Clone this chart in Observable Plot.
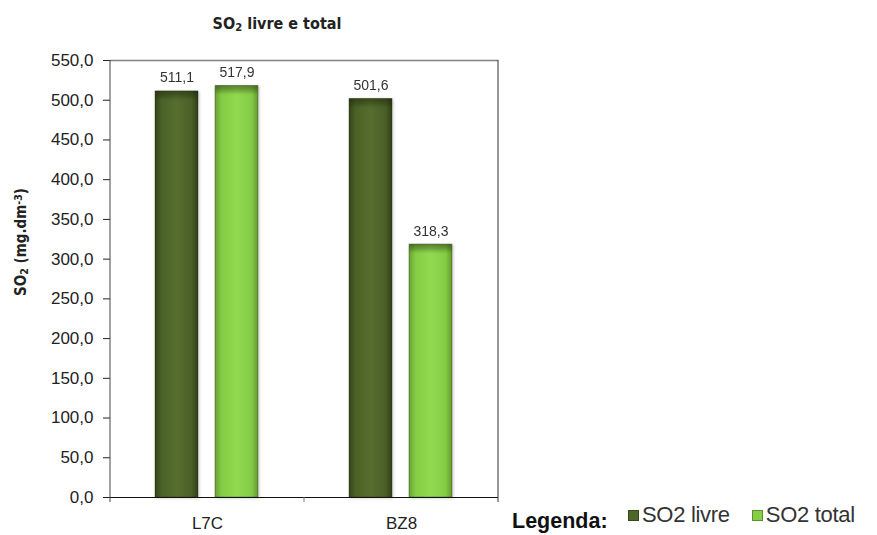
<!DOCTYPE html>
<html>
<head>
<meta charset="utf-8">
<script src="https://cdn.jsdelivr.net/npm/d3@7"></script>
<script src="https://cdn.jsdelivr.net/npm/@observablehq/plot@0.6"></script>
<style>
  body { margin: 0; background: #fff; }
  #chart { position: relative; width: 877px; height: 535px; font-family: "Liberation Sans", Arial, sans-serif; color: #222; }
  #chart svg { position: absolute; left: 0; top: 0; }
  .narrow { font-family: "Liberation Sans Narrow", "Arial Narrow", "DejaVu Sans Condensed", sans-serif; font-weight: bold; }
  #title { position: absolute; left: 177px; width: 200px; top: 14px; text-align: center; font-size: 16px; }
  #title sub, #ylabel sub { font-size: 70%; vertical-align: -0.15em; }
  #ylabel sup { font-size: 70%; vertical-align: 0.45em; }
  #ylabel { position: absolute; left: 21px; top: 242px; transform: translate(-50%, -50%) rotate(-90deg); white-space: nowrap; font-size: 15px; }
  #legend-title { position: absolute; left: 512px; top: 511px; font-size: 21.5px; font-weight: bold; line-height: 20px; color: #111; }
  #legend { position: absolute; left: 628px; top: 504px; display: flex; gap: 22px; font-size: 22px; line-height: 22px; color: #333; letter-spacing: -0.3px; }
  .item { display: flex; align-items: center; white-space: nowrap; }
  .swatch { width: 9px; height: 9px; margin-right: 3px; border: 1px solid rgba(0,0,0,0.3); }
</style>
</head>
<body>
<div id="chart">
  <div id="title" class="narrow">SO<sub>2</sub> livre e total</div>
  <div id="ylabel" class="narrow">SO<sub>2</sub> (mg.dm<sup>-3</sup>)</div>
  <div id="legend-title">Legenda:</div>
  <div id="legend"></div>
</div>
<script>
// Sampling points and SO2 concentrations (mg/dm³)
const categories = ["L7C", "BZ8"];
const series = ["SO2 livre", "SO2 total"];
const livre = [511.1, 501.6];
const total = [517.9, 318.3];
const yTicks = [0, 50, 100, 150, 200, 250, 300, 350, 400, 450, 500, 550];

// Swatch colours for the legend and gradient ids for the bars
const swatchColors = ["#4f6629", "#86cf45"];
const gradientIds = ["gLivre", "gTotal"];

const rows = categories.flatMap((cat, i) => [
  {cat, serie: series[0], value: livre[i]},
  {cat, serie: series[1], value: total[i]}
]);

const fmt = d => d.toFixed(1).replace(".", ",");

const plot = Plot.plot({
  width: 877,
  height: 535,
  marginTop: 60,
  marginBottom: 38,
  marginLeft: 110,
  marginRight: 379,
  style: {fontFamily: "'Liberation Sans', Arial, sans-serif", fontSize: "17px", color: "#222", background: "transparent", overflow: "visible"},
  fx: {domain: categories, padding: 0, axis: "bottom", label: null, tickSize: 0, tickPadding: 19},
  x: {domain: series, axis: null, paddingInner: 0.28, paddingOuter: 0.75},
  y: {domain: [0, 550], ticks: yTicks, tickFormat: fmt, tickSize: 7, tickPadding: 10, label: null},
  color: {domain: series, range: gradientIds.map(id => `url(#${id})`)},
  marks: [
    Plot.ruleY([550], {stroke: "#808080", strokeWidth: 1.6}),
    Plot.barY(rows, {fx: "cat", x: "serie", y: "value", fill: "serie", stroke: "rgba(30,40,10,0.35)", strokeWidth: 1}),
    // darker bevel along the top of each bar
    Plot.barY(rows, {fx: "cat", x: "serie", y1: "value", y2: "value", insetBottom: -9, insetLeft: 0.5, insetRight: 0.5, fill: "url(#gCap)"}),
    Plot.text(rows, {fx: "cat", x: "serie", y: "value", text: d => fmt(d.value), dy: -9, lineAnchor: "bottom", fontSize: 14, fill: "#333"}),
    Plot.ruleY([0], {stroke: "#111"})
  ]
});

const svg = d3.select(plot);

// Bar shading: darker edges, lighter centre
const grads = [
  ["#34431a", "#4b6127", "#566e2f", "#4a5f27", "#313f18"],
  ["#6aa034", "#84cc44", "#92da50", "#84cc44", "#649a30"]
];
const defs = svg.insert("defs", ":first-child");
gradientIds.forEach((id, i) => {
  const g = defs.append("linearGradient").attr("id", id).attr("x1", 0).attr("x2", 1).attr("y1", 0).attr("y2", 0);
  [0, 0.15, 0.5, 0.85, 1].forEach((o, k) => g.append("stop").attr("offset", o).attr("stop-color", grads[i][k]));
});
const cap = defs.append("linearGradient").attr("id", "gCap").attr("x1", 0).attr("x2", 0).attr("y1", 0).attr("y2", 1);
cap.append("stop").attr("offset", 0).attr("stop-color", "#1a2208").attr("stop-opacity", 0.45);
cap.append("stop").attr("offset", 1).attr("stop-color", "#1a2208").attr("stop-opacity", 0);

// soft shadow behind the bars
svg.selectAll("g[aria-label='bar']").style("filter", "drop-shadow(1px 1px 1.5px rgba(0,0,0,0.22))");

// Plot frame: left axis line, right border, separator ticks below the baseline
const fxScale = plot.scale("fx");
const yScale = plot.scale("y");
const left = fxScale.apply(categories[0]);
const right = fxScale.apply(categories[categories.length - 1]) + fxScale.bandwidth;
const y0 = yScale.apply(0), yTop = yScale.apply(550);
const frame = svg.append("g").attr("fill", "none");
frame.append("line").attr("x1", left).attr("x2", left).attr("y1", yTop).attr("y2", y0 + 5).attr("stroke", "#444");
frame.append("line").attr("x1", right).attr("x2", right).attr("y1", yTop).attr("y2", y0 + 5).attr("stroke", "#333");
categories.slice(1).forEach(c => {
  const x = fxScale.apply(c);
  frame.append("line").attr("x1", x).attr("x2", x).attr("y1", y0).attr("y2", y0 + 5).attr("stroke", "#777");
});

document.getElementById("chart").appendChild(plot);

// Legend
const legend = d3.select("#legend");
series.forEach((s, i) => {
  const item = legend.append("div").attr("class", "item");
  item.append("div").attr("class", "swatch").style("background", swatchColors[i]);
  item.append("span").text(s);
});
</script>
</body>
</html>
